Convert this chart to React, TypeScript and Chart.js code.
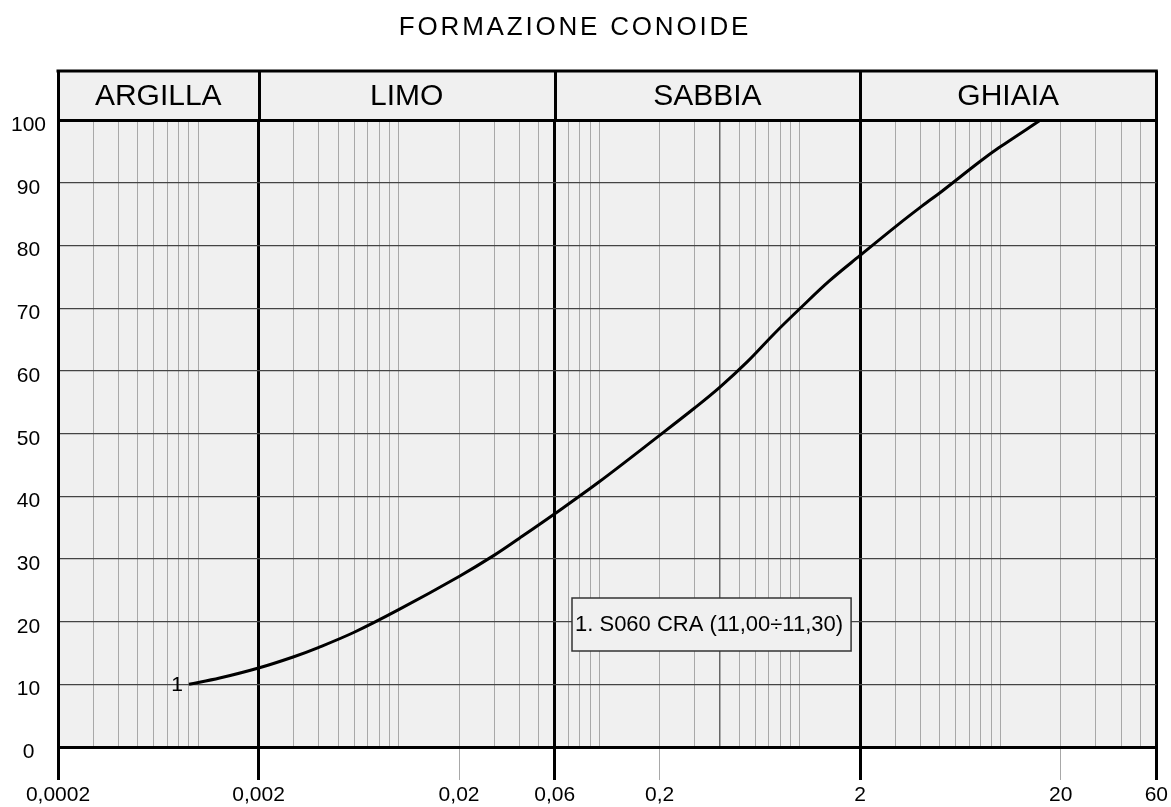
import { useEffect, useRef } from 'react';
import { Chart, registerables } from 'chart.js';

Chart.register(...registerables);

// ---- Data -------------------------------------------------------------
const TITLE = 'FORMAZIONE CONOIDE';
const FRACTION_NAMES = ['ARGILLA', 'LIMO', 'SABBIA', 'GHIAIA'];
const FRACTION_BOUNDS = [0.0002, 0.002, 0.06, 2, 60];
const LABELED_DIAMETERS = [0.0002, 0.002, 0.02, 0.06, 0.2, 2, 20, 60];
const ACCENT_DIAMETERS = [0.4];
const GRID_MULTIPLIERS = [1, 2, 3, 4, 5, 6, 7, 8, 9];
const GRID_DECADES = [-4, -3, -2, -1, 0, 1];

const SAMPLE_TAG = '1';
const SAMPLE_LABEL = '1. S060 CRA (11,00÷11,30)';

// grain diameter (mm) and percentage passing
const DIAMETERS = [
  0.0009, 0.00128, 0.002, 0.003, 0.004, 0.006, 0.01, 0.02, 0.03, 0.04,
  0.06, 0.1, 0.2, 0.3, 0.4, 0.55, 0.75, 1.0, 1.4, 2, 3.06, 4.08,
  5.1, 7.86, 9.87, 15.9,
];
const PASSING = [
  10.0, 11.0, 12.6, 14.4, 15.9, 18.3, 21.9, 27.2, 30.6, 33.3,
  37.2, 42.3, 49.7, 54.1, 57.4, 61.5, 66.0, 69.9, 74.3, 78.4, 83.2, 86.3,
  88.6, 93.3, 95.6, 100,
];

// ---- Layout constants ---------------------------------------------------
const WIDTH = 1171;
const HEIGHT = 807;
const HEADER_TOP = 71;
const FONT = "'Liberation Sans', Arial, sans-serif";
const PAPER = '#f0f0f0';

const X_MIN = FRACTION_BOUNDS[0];
const X_MAX = FRACTION_BOUNDS[FRACTION_BOUNDS.length - 1];

const sameValue = (a: number, b: number) => Math.abs(Math.log10(a / b)) < 1e-6;
const inList = (v: number, list: number[]) => list.some((d) => sameValue(v, d));

const GRID_DIAMETERS: number[] = [];
GRID_DECADES.forEach((e) => {
  GRID_MULTIPLIERS.forEach((m) => {
    const v = Number((m * Math.pow(10, e)).toPrecision(6));
    if (v >= X_MIN * 0.999999 && v <= X_MAX * 1.000001) GRID_DIAMETERS.push(v);
  });
});
if (!inList(X_MAX, GRID_DIAMETERS)) GRID_DIAMETERS.push(X_MAX);

const formatDiameter = (v: number) => String(v).replace('.', ',');

// Background paper, fraction header, title, sample tag and legend box
const sheetPlugin = {
  id: 'sheet',
  beforeDraw(chart: any) {
    const { ctx, chartArea: a } = chart;
    ctx.save();
    ctx.fillStyle = PAPER;
    ctx.fillRect(a.left, HEADER_TOP, a.right - a.left, a.bottom - HEADER_TOP);
    ctx.restore();
  },
  afterDraw(chart: any) {
    const { ctx, chartArea: a } = chart;
    const x = chart.scales.x;
    ctx.save();

    // header frame
    ctx.strokeStyle = '#000';
    ctx.lineWidth = 3;
    ctx.beginPath();
    ctx.moveTo(a.left - 1.5, HEADER_TOP);
    ctx.lineTo(a.right + 1.5, HEADER_TOP);
    FRACTION_BOUNDS.forEach((b) => {
      const px = Math.round(x.getPixelForValue(b)) + 0.5;
      ctx.moveTo(px, HEADER_TOP);
      ctx.lineTo(px, a.top);
    });
    ctx.stroke();

    // fraction names
    ctx.fillStyle = '#000';
    ctx.font = `30px ${FONT}`;
    ctx.textAlign = 'center';
    ctx.textBaseline = 'middle';
    FRACTION_NAMES.forEach((name, i) => {
      const x0 = x.getPixelForValue(FRACTION_BOUNDS[i]);
      const x1 = x.getPixelForValue(FRACTION_BOUNDS[i + 1]);
      ctx.fillText(name, (x0 + x1) / 2, (HEADER_TOP + a.top) / 2 + 1);
    });

    // title
    ctx.font = `26px ${FONT}`;
    (ctx as any).letterSpacing = '2.8px';
    ctx.fillText(TITLE, 575, 28);
    (ctx as any).letterSpacing = '0px';

    // sample tag at the start of the curve
    const meta = chart.getDatasetMeta(0);
    const first = meta.data[0];
    ctx.font = `21px ${FONT}`;
    ctx.textAlign = 'right';
    ctx.fillText(SAMPLE_TAG, first.x - 6, first.y + 1);

    // legend box
    ctx.font = `22px ${FONT}`;
    const boxLeft = 572;
    const boxTop = 598;
    const textW = ctx.measureText(SAMPLE_LABEL).width;
    const boxW = textW + 11;
    const boxH = 53;
    ctx.fillStyle = PAPER;
    ctx.fillRect(boxLeft, boxTop, boxW, boxH);
    ctx.strokeStyle = '#333';
    ctx.lineWidth = 1.5;
    ctx.strokeRect(boxLeft, boxTop, boxW, boxH);
    ctx.fillStyle = '#000';
    ctx.textAlign = 'left';
    ctx.fillText(SAMPLE_LABEL, boxLeft + 3, boxTop + boxH / 2);

    ctx.restore();
  },
};

export default function App() {
  const canvasRef = useRef<HTMLCanvasElement | null>(null);

  useEffect(() => {
    const canvas = canvasRef.current;
    if (!canvas) return;

    const chart = new Chart(canvas, {
      type: 'line',
      data: {
        datasets: [
          {
            label: SAMPLE_LABEL,
            data: DIAMETERS.map((d, i) => ({ x: d, y: PASSING[i] })),
            borderColor: '#000',
            borderWidth: 3,
            pointRadius: 0,
            fill: false,
            tension: 0.35,
          },
        ],
      },
      options: {
        animation: false,
        responsive: false,
        devicePixelRatio: 1,
        layout: { padding: { top: 120, right: 13, left: 0, bottom: 0 } },
        plugins: {
          legend: { display: false },
          tooltip: { enabled: false },
          title: { display: false },
        },
        scales: {
          x: {
            type: 'logarithmic',
            min: X_MIN,
            max: X_MAX,
            afterBuildTicks: (scale: any) => {
              scale.ticks = GRID_DIAMETERS.map((v) => ({ value: v }));
            },
            afterFit: (scale: any) => {
              scale.height = HEIGHT - 747;
            },
            border: { display: true, color: '#000', width: 3 },
            grid: {
              color: (c: any) => {
                const v = c.tick?.value;
                if (v === undefined) return '#a8a8a8';
                if (inList(v, FRACTION_BOUNDS)) return '#000';
                if (inList(v, ACCENT_DIAMETERS)) return '#666';
                return '#a8a8a8';
              },
              lineWidth: (c: any) => {
                const v = c.tick?.value;
                if (v !== undefined && inList(v, FRACTION_BOUNDS)) return 3;
                if (v !== undefined && inList(v, ACCENT_DIAMETERS)) return 1.5;
                return 1;
              },
              tickLength: 33,
              tickColor: (c: any) => {
                const v = c.tick?.value;
                if (v === undefined) return 'rgba(0,0,0,0)';
                if (inList(v, FRACTION_BOUNDS)) return '#000';
                if (inList(v, LABELED_DIAMETERS)) return '#a8a8a8';
                return 'rgba(0,0,0,0)';
              },
              tickWidth: (c: any) => {
                const v = c.tick?.value;
                return v !== undefined && inList(v, FRACTION_BOUNDS) ? 3 : 1;
              },
            },
            ticks: {
              autoSkip: false,
              maxRotation: 0,
              padding: 3,
              color: '#000',
              font: { family: FONT, size: 21 },
              callback: (value: any) => {
                const v = Number(value);
                return inList(v, LABELED_DIAMETERS) ? formatDiameter(v) : '';
              },
            },
          },
          y: {
            type: 'linear',
            min: 0,
            max: 100,
            afterFit: (scale: any) => {
              scale.width = 58;
            },
            border: { display: true, color: '#000', width: 3 },
            grid: {
              drawTicks: false,
              color: (c: any) => {
                const v = c.tick?.value;
                return v === 0 || v === 100 ? '#000' : '#444';
              },
              lineWidth: (c: any) => {
                const v = c.tick?.value;
                return v === 0 || v === 100 ? 3 : 1.2;
              },
            },
            ticks: {
              stepSize: 10,
              padding: 12,
              crossAlign: 'center',
              color: '#000',
              // the empty first line nudges each number slightly below its gridline
              font: { family: FONT, size: 21, lineHeight: 0.5 },
              callback: (value: any) => ['', String(value)],
            },
          },
        },
      },
      plugins: [sheetPlugin],
    } as any);

    return () => chart.destroy();
  }, []);

  return (
    <div
      style={{
        position: 'fixed',
        left: 0,
        top: 0,
        width: WIDTH,
        height: HEIGHT,
        background: '#fff',
      }}
    >
      <canvas ref={canvasRef} width={WIDTH} height={HEIGHT} />
    </div>
  );
}
